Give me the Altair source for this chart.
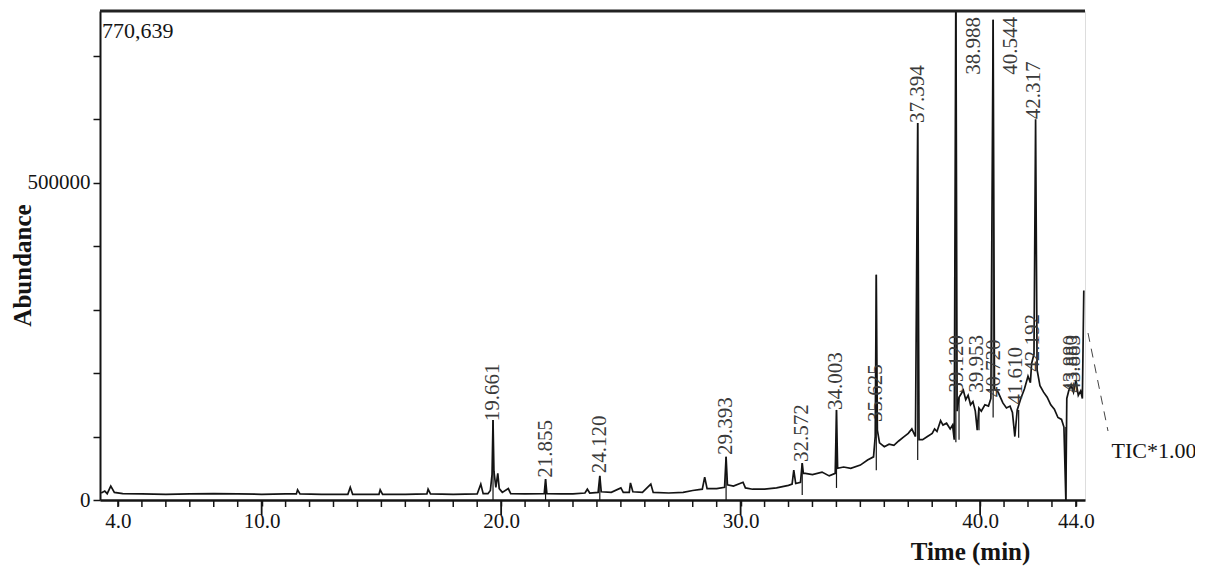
import altair as alt
import pandas as pd

# ---- data ----
trace_time = [
    3.30, 3.45, 3.55, 3.70, 3.85, 4.2, 5.0, 6.0, 7.0, 8.0,
    9.0, 10.0, 11.0, 11.45, 11.5, 11.6, 12.5, 13.6, 13.7, 13.8,
    14.9, 14.95, 15.05, 16.0, 16.9, 16.95, 17.05, 18.0, 19.0, 19.15,
    19.25, 19.45, 19.55, 19.62, 19.661, 19.70, 19.78, 19.86, 19.92, 20.05,
    20.30, 20.40, 21.0, 21.80, 21.855, 21.91, 22.5, 23.0, 23.5, 23.6,
    23.7, 24.05, 24.12, 24.18, 24.6, 25.0, 25.1, 25.35, 25.4, 25.5,
    25.9, 26.25, 26.35, 27.0, 27.6, 28.0, 28.4, 28.5, 28.6, 29.0,
    29.33, 29.393, 29.45, 29.7, 30.1, 30.2, 30.5, 31.0, 31.5, 32.0,
    32.15, 32.22, 32.30, 32.5, 32.572, 32.62, 32.7, 33.0, 33.4, 33.7,
    33.95, 34.003, 34.05, 34.3, 34.6, 35.0, 35.3, 35.55, 35.62, 35.665,
    35.71, 35.8, 36.0, 36.2, 36.4, 36.6, 36.8, 37.0, 37.15, 37.3,
    37.394, 37.45, 37.6, 37.8, 38.0, 38.1, 38.2, 38.35, 38.45, 38.6,
    38.75, 38.85, 38.92, 38.988, 39.04, 39.12, 39.3, 39.4, 39.5, 39.6,
    39.7, 39.8, 39.88, 39.95, 40.05, 40.2, 40.35, 40.45, 40.544, 40.6,
    40.75, 40.95, 41.1, 41.25, 41.35, 41.45, 41.55, 41.7, 41.85, 42.0,
    42.1, 42.15, 42.25, 42.317, 42.38, 42.5, 42.65, 42.8, 42.95, 43.1,
    43.25, 43.4, 43.5, 43.58, 43.62, 43.7, 43.8, 43.9, 44.0, 44.1,
    44.2, 44.27, 44.33]
trace_abund = [
    11000, 14000, 10000, 22000, 12000, 10000, 9500, 9000, 9500, 10000,
    9500, 9000, 9500, 9500, 16000, 9500, 9000, 9000, 20000, 9000,
    9000, 16000, 9000, 9000, 9500, 17000, 9500, 9000, 9500, 25000,
    10000, 10000, 15000, 40000, 126000, 45000, 20000, 42000, 18000, 12000,
    18000, 10000, 9500, 10000, 33000, 10000, 9500, 9500, 11000, 17000,
    11000, 12000, 38000, 13000, 12000, 19000, 12000, 12000, 27000, 13000,
    12000, 25000, 12000, 11000, 12000, 15000, 17000, 36000, 18000, 18000,
    20000, 68000, 24000, 22000, 28000, 19000, 17000, 17000, 19000, 23000,
    25000, 47000, 26000, 28000, 58000, 42000, 42000, 40000, 44000, 38000,
    42000, 142000, 50000, 52000, 50000, 55000, 63000, 68000, 100000, 355000,
    110000, 90000, 84000, 88000, 86000, 93000, 99000, 105000, 112000, 100000,
    594000, 95000, 95000, 100000, 105000, 112000, 108000, 125000, 118000, 121000,
    112000, 118000, 95000, 820000, 140000, 162000, 173000, 158000, 165000, 150000,
    155000, 140000, 110000, 145000, 140000, 150000, 148000, 160000, 757000, 175000,
    170000, 153000, 145000, 148000, 138000, 100000, 142000, 160000, 175000, 195000,
    185000, 215000, 230000, 600000, 205000, 180000, 170000, 162000, 150000, 143000,
    130000, 127000, 115000, 0, 160000, 172000, 182000, 170000, 188000, 165000,
    172000, 160000, 330000]

label_text = ["19.661", "21.855", "24.120", "29.393", "32.572", "34.003", "35.625", "37.394", "38.988",
              "40.544", "42.317", "39.120", "39.953", "40.720", "41.610", "42.192", "43.880", "43.883"]
label_time = [19.661, 21.855, 24.12, 29.393, 32.572, 34.003, 35.665, 37.394, 39.75,
              41.27, 42.23, 39.04, 39.88, 40.58, 41.50, 42.20, 43.80, 43.90]
label_abund = [124000, 35000, 42000, 71000, 60000, 142000, 123000, 594000, 670000,
               670000, 600000, 169000, 169000, 162000, 150000, 202000, 169000, 169000]

marker_time = [19.661, 21.855, 24.12, 29.393, 32.572, 34.003, 35.665, 37.394, 38.988, 39.12, 39.953,
               40.544, 41.61, 43.58]
marker_low = [0, 0, 0, 0, 8000, 19000, 47000, 63000, 91000, 95000, 110000, 130000, 98000, 0]
marker_high = [126000, 33000, 38000, 68000, 58000, 142000, 355000, 594000, 800000, 162000, 140000,
               757000, 142000, 115000]

minor_ticks = [4, 5, 6, 7, 8, 9, 11, 12, 13, 14, 15, 16, 17, 18, 19, 21, 22, 23, 24, 25, 26, 27, 28, 29,
               31, 32, 33, 34, 35, 36, 37, 38, 39, 41, 42, 43, 44]
major_ticks = [10, 20, 30, 40]
x_labels = [4, 10, 20, 30, 40, 44]
y_ticks = [0, 100000, 200000, 300000, 400000, 500000, 600000, 700000]

X_MIN, X_MAX = 3.25, 44.38
Y_MAX = 770639
W, H = 985, 489
FONT = "Liberation Serif"
INK = "#141414"

xs = alt.Scale(domain=[X_MIN, X_MAX], nice=False, zero=False)
ys = alt.Scale(domain=[0, Y_MAX], nice=False, zero=False)

trace = pd.DataFrame({"t": trace_time, "a": trace_abund})
labels = pd.DataFrame({"txt": label_text, "t": label_time, "a": label_abund})
markers = pd.DataFrame({"t": marker_time, "lo": marker_low, "hi": marker_high})
minor = pd.DataFrame({"t": minor_ticks})
major = pd.DataFrame({"t": major_ticks})

x_axis = alt.Axis(values=x_labels, format=".1f", title="Time (min)", grid=False,
                  labelFont=FONT, labelFontSize=21, labelColor=INK, labelPadding=4,
                  tickSize=6, tickColor=INK, tickWidth=1.5, domainColor=INK, domainWidth=2.5,
                  titleFont=FONT, titleFontSize=25, titleFontWeight="bold", titleColor=INK,
                  titleX=870, titleY=51, titleBaseline="middle", titleAlign="center",
                  labelFlush=False)
y_axis = alt.Axis(values=y_ticks, title="Abundance", grid=False,
                  labelExpr="datum.value == 0 || datum.value == 500000 ? format(datum.value, 'd') : ''",
                  labelFont=FONT, labelFontSize=21, labelColor=INK, labelPadding=3,
                  tickSize=7, tickColor=INK, tickWidth=1.5, domainColor=INK, domainWidth=2,
                  titleFont=FONT, titleFontSize=25, titleFontWeight="bold", titleColor=INK,
                  titleX=-78, titleY=254, titleBaseline="middle", titleAlign="center", titleAngle=270)

line = alt.Chart(trace).mark_line(color=INK, strokeWidth=1.7, clip=True).encode(
    x=alt.X("t:Q", scale=xs, axis=x_axis),
    y=alt.Y("a:Q", scale=ys, axis=y_axis),
)

mark_rules = alt.Chart(markers).mark_rule(color=INK, strokeWidth=1.2, clip=True).encode(
    x=alt.X("t:Q", scale=xs), y=alt.Y("lo:Q", scale=ys), y2="hi:Q")

peak_labels = alt.Chart(labels).mark_text(angle=270, align="left", baseline="middle", font=FONT,
                                          fontSize=21, color="#3a3a3a").encode(
    x=alt.X("t:Q", scale=xs), y=alt.Y("a:Q", scale=ys), text="txt:N")

minor_rules = alt.Chart(minor).mark_rule(color=INK, strokeWidth=1.5).encode(
    x=alt.X("t:Q", scale=xs), y=alt.value(H), y2=alt.value(H + 7))
major_rules = alt.Chart(major).mark_rule(color=INK, strokeWidth=1.8).encode(
    x=alt.X("t:Q", scale=xs), y=alt.value(H), y2=alt.value(H + 15))

top_border = alt.Chart(pd.DataFrame({"k": [0]})).mark_rule(color="#222222", strokeWidth=3).encode(
    x=alt.value(0), x2=alt.value(W), y=alt.value(0))

max_text = alt.Chart(pd.DataFrame({"k": [0]})).mark_text(
    align="left", baseline="middle", font=FONT, fontSize=22, color=INK, text="770,639").encode(
    x=alt.value(2), y=alt.value(20))

tic_text = alt.Chart(pd.DataFrame({"k": [0]})).mark_text(
    align="center", baseline="middle", font=FONT, fontSize=22, color=INK, text="TIC*1.00").encode(
    x=alt.value(1054), y=alt.value(440))

tic_leader = alt.Chart(pd.DataFrame({"k": [0]})).mark_rule(
    color="#444444", strokeWidth=1, strokeDash=[9, 7]).encode(
    x=alt.value(988), y=alt.value(322), x2=alt.value(1008), y2=alt.value(420))

chart = alt.layer(line, mark_rules, peak_labels, minor_rules, major_rules, top_border,
                  max_text, tic_text, tic_leader).properties(
    width=W, height=H,
    autosize=alt.AutoSizeParams(type="none"),
    padding={"left": 92, "top": 3, "right": 110, "bottom": 70},
).configure_view(stroke="#333333", strokeWidth=1.2).configure(background="white")

chart.save("out.html", embed_options={"renderer": "svg", "actions": False})
